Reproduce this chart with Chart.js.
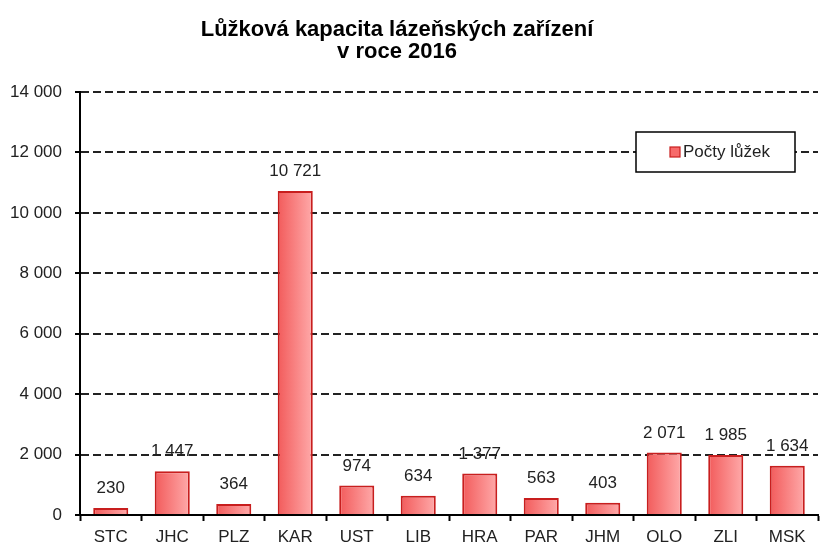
<!DOCTYPE html>
<html>
<head>
<meta charset="utf-8">
<script src="https://cdn.jsdelivr.net/npm/chart.js@4/dist/chart.umd.min.js"></script>
<style>
  html, body { margin: 0; padding: 0; background: #fff; }
  #wrap { width: 821px; height: 547px; }
</style>
</head>
<body>
<div id="wrap"><canvas id="graf" width="821" height="547"></canvas></div>
<script>
const kraje = ['STC', 'JHC', 'PLZ', 'KAR', 'UST', 'LIB', 'HRA', 'PAR', 'JHM', 'OLO', 'ZLI', 'MSK']
const lozka = [230, 1447, 364, 10721, 974, 634, 1377, 563, 403, 2071, 1985, 1634]
const nazevRady = 'Počty lůžek'
const titulek = ['Lůžková kapacita lázeňských zařízení', 'v roce 2016']

const PISMO = "'Liberation Sans', Arial, sans-serif"

const formatCislo = (v) => String(v).replace(/\B(?=(\d{3})+(?!\d))/g, ' ')

// ── Pluginy ────────────────────────────────────────────────────────────────

const titulekPlugin = {
  id: 'titulek',
  afterDraw(chart) {
    const c = chart.ctx
    c.save()
    c.fillStyle = '#000'
    c.font = 'bold 22px ' + PISMO
    c.textAlign = 'center'
    c.textBaseline = 'alphabetic'
    c.fillText(titulek[0], 397, 36)
    c.fillText(titulek[1], 397, 58)
    c.restore()
  },
}

const popiskyPlugin = {
  id: 'popisky',
  afterDatasetsDraw(chart) {
    const c = chart.ctx
    const meta = chart.getDatasetMeta(0)
    c.save()
    c.fillStyle = '#222'
    c.font = '17px ' + PISMO
    c.textAlign = 'center'
    c.textBaseline = 'bottom'
    meta.data.forEach((bar, i) => {
      c.fillText(formatCislo(lozka[i]), bar.x, bar.y - 11)
    })
    c.restore()
  },
}

const legendaPlugin = {
  id: 'legenda',
  afterDraw(chart) {
    const c = chart.ctx
    const x = 636, y = 132, w = 159, h = 40
    c.save()
    c.fillStyle = '#fff'
    c.fillRect(x, y, w, h)
    c.strokeStyle = '#000'
    c.lineWidth = 1.5
    c.strokeRect(x, y, w, h)
    c.fillStyle = '#f76a6a'
    c.fillRect(x + 34, y + 15, 10, 10)
    c.strokeStyle = '#c81e1e'
    c.lineWidth = 1.2
    c.strokeRect(x + 34, y + 15, 10, 10)
    c.fillStyle = '#222'
    c.font = '17px ' + PISMO
    c.textAlign = 'left'
    c.textBaseline = 'middle'
    c.fillText(nazevRady, x + 47, y + 20)
    c.restore()
  },
}

// ── Graf ───────────────────────────────────────────────────────────────────

function barvaSloupce(context) {
  const chart = context.chart
  const sx = chart.scales.x
  if (!sx || context.dataIndex === undefined) return '#f77a7a'
  const stred = sx.getPixelForValue(context.dataIndex)
  if (!isFinite(stred)) return '#f77a7a'
  const g = chart.ctx.createLinearGradient(stred - 18, 0, stred + 18, 0)
  g.addColorStop(0, '#f25a5a')
  g.addColorStop(1, '#ffabab')
  return g
}

new Chart(document.getElementById('graf'), {
  type: 'bar',
  data: {
    labels: kraje,
    datasets: [
      {
        label: nazevRady,
        data: lozka,
        backgroundColor: barvaSloupce,
        borderColor: '#c81e1e',
        borderWidth: 2,
        borderSkipped: 'bottom',
        categoryPercentage: 1,
        barPercentage: 0.57,
      },
    ],
  },
  options: {
    responsive: false,
    animation: false,
    layout: { padding: { top: 92, right: 3, left: 0, bottom: 0 } },
    plugins: {
      legend: { display: false },
      title: { display: false },
      tooltip: { enabled: false },
    },
    scales: {
      x: {
        afterFit: (s) => { s.height = 32 },
        grid: {
          display: true,
          drawOnChartArea: false,
          drawTicks: true,
          tickLength: 6,
          tickColor: '#000',
          tickWidth: 2,
          offset: true,
        },
        border: { display: true, color: '#000', width: 2 },
        ticks: {
          padding: 6,
          color: '#222',
          font: { family: PISMO, size: 17 },
          maxRotation: 0,
        },
      },
      y: {
        min: 0,
        max: 14000,
        afterFit: (s) => { s.width = 80 },
        grid: {
          color: (ctx) => (ctx.tick && ctx.tick.value === 0 ? 'rgba(0,0,0,0)' : '#222'),
          lineWidth: 2,
          drawTicks: true,
          tickLength: 5,
          tickColor: '#000',
          tickWidth: 2,
          tickBorderDash: [],
        },
        border: { display: true, color: '#000', width: 2, dash: [8, 4] },
        ticks: {
          stepSize: 2000,
          padding: 13,
          color: '#222',
          font: { family: PISMO, size: 17 },
          callback: (v) => formatCislo(v),
        },
      },
    },
  },
  plugins: [titulekPlugin, popiskyPlugin, legendaPlugin],
})
</script>
</body>
</html>
